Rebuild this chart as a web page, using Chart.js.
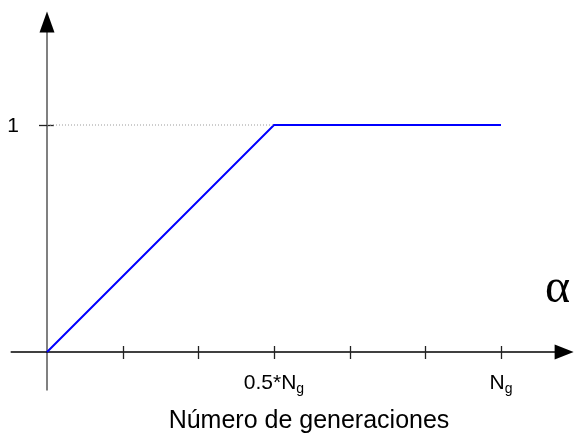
<!DOCTYPE html>
<html>
<head>
<meta charset="utf-8">
<script src="https://cdn.jsdelivr.net/npm/chart.js@4/dist/chart.umd.min.js"></script>
<style>
  html, body { margin: 0; padding: 0; background: #fff; }
  #alphaChart { display: block; }
</style>
</head>
<body>
<canvas id="alphaChart" width="574" height="434"></canvas>
<script>
// alpha grows linearly up to half the generations, then stays at 1
var genFrac = [0, 0.5, 1];
var alphaVals = [0, 1, 1];
var guideX = [0, 0.5];
var guideY = [1, 1];
var xTicks = [0, 0.167, 0.333, 0.5, 0.667, 0.833, 1];
var xTickText = ["", "", "", "0.5*N", "", "", "N"];
var xTickSub = ["", "", "", "g", "", "", "g"];
var yTicks = [1];
var yTickText = ["1"];
var xTitle = "Número de generaciones";
var seriesName = "\u03b1";

function toPoints(xs, ys) {
  return xs.map(function (x, i) { return { x: x, y: ys[i] }; });
}

var diagramAxes = {
  id: "diagramAxes",
  beforeDatasetsDraw: function (chart) {
    var ctx = chart.ctx;
    var xs = chart.scales.x, ys = chart.scales.y;
    var x0 = xs.getPixelForValue(0), y0 = ys.getPixelForValue(0);
    var yTop = ys.getPixelForValue(1.5), yBot = ys.getPixelForValue(-0.17);
    var xLeft = xs.getPixelForValue(-0.08), xRight = xs.getPixelForValue(1.16);
    ctx.save();
    // y axis (grey) with arrow
    ctx.strokeStyle = "#808080";
    ctx.lineWidth = 2;
    ctx.beginPath();
    ctx.moveTo(x0, yBot);
    ctx.lineTo(x0, yTop + 18);
    ctx.stroke();
    ctx.fillStyle = "#000";
    ctx.beginPath();
    ctx.moveTo(x0, yTop);
    ctx.lineTo(x0 - 7.5, yTop + 21);
    ctx.lineTo(x0 + 7.5, yTop + 21);
    ctx.closePath();
    ctx.fill();
    // x axis (black) with arrow
    ctx.strokeStyle = "#000";
    ctx.lineWidth = 1.5;
    ctx.beginPath();
    ctx.moveTo(xLeft, y0);
    ctx.lineTo(xRight - 18, y0);
    ctx.stroke();
    ctx.beginPath();
    ctx.moveTo(xRight, y0);
    ctx.lineTo(xRight - 19, y0 - 7.5);
    ctx.lineTo(xRight - 19, y0 + 7.5);
    ctx.closePath();
    ctx.fill();
    // tick marks
    ctx.lineWidth = 1.3;
    ctx.strokeStyle = "#222";
    xTicks.forEach(function (v) {
      if (v === 0) return;
      var px = Math.round(xs.getPixelForValue(v)) + 0.5;
      ctx.beginPath();
      ctx.moveTo(px, y0 - 6);
      ctx.lineTo(px, y0 + 7);
      ctx.stroke();
    });
    yTicks.forEach(function (v) {
      var py = Math.round(ys.getPixelForValue(v)) + 0.5;
      ctx.beginPath();
      ctx.moveTo(x0 - 8, py);
      ctx.lineTo(x0 + 7, py);
      ctx.stroke();
    });
    ctx.restore();
  },
  afterDraw: function (chart) {
    var ctx = chart.ctx;
    var xs = chart.scales.x, ys = chart.scales.y;
    var x0 = xs.getPixelForValue(0), y0 = ys.getPixelForValue(0);
    ctx.save();
    ctx.fillStyle = "#000";
    ctx.textBaseline = "alphabetic";
    // x tick labels with subscript g
    xTicks.forEach(function (v, i) {
      if (!xTickText[i]) return;
      ctx.font = "21px 'Liberation Sans', Arial, sans-serif";
      var w1 = ctx.measureText(xTickText[i]).width;
      ctx.font = "14px 'Liberation Sans', Arial, sans-serif";
      var w2 = ctx.measureText(xTickSub[i]).width;
      var left = xs.getPixelForValue(v) - (w1 + w2) / 2;
      ctx.font = "21px 'Liberation Sans', Arial, sans-serif";
      ctx.textAlign = "left";
      ctx.fillText(xTickText[i], left, y0 + 37);
      ctx.font = "14px 'Liberation Sans', Arial, sans-serif";
      ctx.fillText(xTickSub[i], left + w1, y0 + 41);
    });
    // y tick labels
    ctx.font = "21px 'Liberation Sans', Arial, sans-serif";
    ctx.textAlign = "right";
    yTicks.forEach(function (v, i) {
      ctx.fillText(yTickText[i], x0 - 28, ys.getPixelForValue(v) + 7);
    });
    // axis title
    ctx.font = "25px 'Liberation Sans', Arial, sans-serif";
    ctx.textAlign = "center";
    ctx.fillText(xTitle, 309, 428);
    // series symbol
    ctx.font = "48px 'Liberation Serif', 'Times New Roman', serif";
    ctx.textAlign = "left";
    ctx.fillText(seriesName, 545, 302);
    ctx.restore();
  }
};

var ctx = document.getElementById("alphaChart").getContext("2d");
var alphaChart = new Chart(ctx, {
  type: "line",
  data: {
    datasets: [
      {
        label: "guide",
        data: toPoints(guideX, guideY),
        borderColor: "#9a9a9a",
        borderWidth: 1,
        borderDash: [1, 2],
        pointRadius: 0,
        fill: false,
      },
      {
        label: seriesName,
        data: toPoints(genFrac, alphaVals),
        borderColor: "#0000ff",
        borderWidth: 2,
        pointRadius: 0,
        fill: false,
        tension: 0,
      },
    ],
  },
  options: {
    responsive: false,
    animation: false,
    layout: { padding: 0 },
    plugins: {
      legend: { display: false },
      tooltip: { enabled: false },
    },
    scales: {
      x: { type: "linear", display: false, min: -0.10352, max: 1.16079 },
      y: { type: "linear", display: false, min: -0.36123, max: 1.55066 },
    },
  },
  plugins: [diagramAxes],
});
</script>
</body>
</html>
